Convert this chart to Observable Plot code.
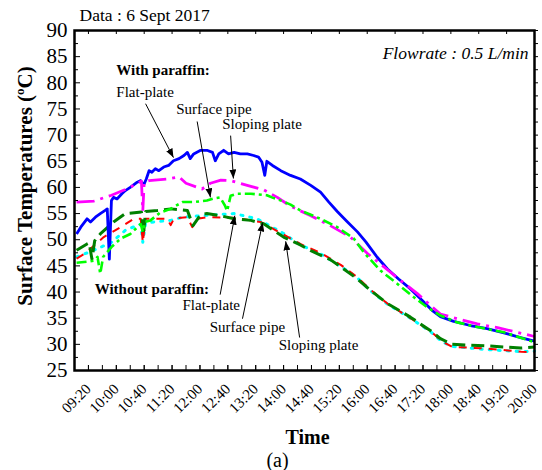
<!DOCTYPE html>
<html><head><meta charset="utf-8">
<script src="https://cdn.jsdelivr.net/npm/d3@7"></script>
<script src="https://cdn.jsdelivr.net/npm/@observablehq/plot@0.6"></script>
<style>
body{margin:0;background:#fff;}
#chart{width:542px;height:470px;}
</style></head><body><div id="chart"></div>
<script>
// ---- data (time "HH:MM", surface temperature °C) ----
const xTickLabels = ["09:20","10:00","10:40","11:20","12:00","12:40","13:20","14:00","14:40","15:20","16:00","16:40","17:20","18:00","18:40","19:20","20:00"];
const yTickLabels = [25,30,35,40,45,50,55,60,65,70,75,80,85,90];

// With paraffin
const flatPlateWith = [["09:03",51.1],["09:09",52.4],["09:18",54.0],["09:23",53.4],["09:30",54.3],["09:37",55.0],["09:44",55.6],["09:47",55.9],["09:50",46.3],["09:53",57.5],["09:56",58.1],["10:01",57.8],["10:08",58.8],["10:13",59.4],["10:20",60.0],["10:30",61.0],["10:35",61.3],["10:39",60.4],["10:43",61.6],["10:47",63.2],["10:51",62.9],["10:56",63.6],["11:01",63.2],["11:08",63.9],["11:15",64.2],["11:22",65.1],["11:30",65.5],["11:37",66.1],["11:42",66.7],["11:46",65.5],["11:51",66.4],["12:01",67.1],["12:10",67.1],["12:18",66.7],["12:22",65.1],["12:27",66.4],["12:34",67.1],["12:41",66.4],["12:49",66.7],["12:58",66.4],["13:08",66.4],["13:17",66.1],["13:24",65.8],["13:29",64.8],["13:33",62.3],["13:36",65.0],["13:44",64.2],["13:56",63.2],["14:10",62.3],["14:24",61.6],["14:39",60.4],["14:53",59.1],["15:05",57.2],["15:17",55.4],["15:31",53.5],["15:46",51.5],["15:58",49.6],["16:14",46.7],["16:29",44.4],["16:45",42.5],["17:02",40.6],["17:19",38.4],["17:33",36.5],["17:45",35.3],["18:04",34.4],["18:28",33.6],["18:52",33.0],["19:16",32.2],["19:40",31.3],["20:00",30.6]];
const slopingPlateWith = [["09:03",57.2],["09:28",57.4],["09:53",58.5],["10:13",59.6],["10:30",60.7],["10:36",61.2],["10:38",55.5],["10:40",61.0],["10:47",61.3],["11:13",61.6],["11:30",62.0],["11:40",60.8],["12:03",59.7],["12:15",60.8],["12:30",61.4],["12:44",61.3],["13:13",60.2],["13:32",59.5],["13:51",58.1],["14:10",56.4],["14:39",54.6],["15:07",52.7],["15:36",50.5],["16:00",47.4],["16:24",44.8],["16:48",42.2],["17:12",39.7],["17:31",37.4],["17:45",35.8],["18:09",34.9],["18:38",33.9],["19:07",33.2],["19:35",32.3],["20:00",31.5]];
const surfacePipeWith = [["09:03",45.6],["09:18",45.8],["09:28",46.0],["09:33",46.7],["09:37",43.5],["09:41",46.7],["09:53",48.6],["10:06",50.2],["10:20",51.1],["10:35",53.0],["10:38",51.5],["10:41",53.4],["10:49",53.7],["11:03",55.2],["11:18",55.9],["11:27",56.6],["11:35",57.2],["11:51",57.2],["12:10",57.5],["12:20",57.9],["12:29",58.1],["12:36",56.5],["12:39",55.5],["12:44",58.4],["12:53",58.8],["13:13",58.8],["13:36",58.5],["13:45",58.0],["14:00",57.3],["14:10",56.7],["14:24",55.6],["14:53",54.0],["15:17",52.4],["15:41",50.2],["15:55",47.6],["16:19",44.1],["16:43",41.6],["17:07",39.0],["17:26",37.1],["17:45",35.5],["18:09",34.2],["18:38",33.3],["19:16",32.3],["20:00",30.4]];

// Without paraffin
const flatPlateWithout = [["09:03",48.0],["09:18",49.2],["09:21",49.4],["09:25",46.3],["09:29",49.8],["09:37",51.1],["09:56",53.4],["10:13",55.0],["10:36",55.3],["10:39",51.0],["10:42",55.4],["10:59",55.6],["11:18",55.9],["11:42",55.6],["11:50",52.7],["12:01",54.8],["12:10",55.0],["12:29",54.6],["12:49",54.0],["13:13",53.7],["13:32",53.0],["14:00",50.5],["14:24",49.0],["14:39",47.9],["15:07",46.2],["15:22",44.8],["15:46",42.5],["16:05",40.3],["16:29",37.8],["17:02",35.2],["17:31",32.6],["17:45",31.1],["18:02",30.0],["18:52",29.7],["19:40",29.3],["20:00",29.5]];
const slopingPlateWithout = [["09:03",46.4],["09:18",47.6],["09:28",48.9],["09:42",50.5],["10:06",52.4],["10:25",54.0],["10:35",54.0],["10:38",49.5],["10:42",54.0],["11:13",54.0],["11:18",52.8],["11:23",54.1],["11:42",54.3],["11:49",52.4],["11:56",54.0],["12:10",54.3],["12:49",54.2],["13:27",53.4],["14:00",51.0],["14:24",49.2],["14:53",47.5],["15:22",45.2],["15:46",42.8],["16:05",40.4],["16:29",37.8],["17:02",35.0],["17:31",32.5],["17:47",30.6],["18:02",29.5],["18:52",29.2],["19:41",28.6],["20:00",28.5]];
const surfacePipeWithout = [["09:03",46.7],["09:28",48.0],["09:53",49.5],["10:13",51.8],["10:35",53.0],["10:38",49.5],["10:42",53.2],["10:54",53.4],["11:18",53.7],["11:35",54.3],["12:01",54.6],["12:49",55.0],["13:22",54.0],["14:00",51.2],["14:24",49.0],["14:53",47.3],["15:22",44.9],["15:46",42.7],["16:05",40.2],["16:29",37.7],["17:02",35.0],["17:31",32.4],["17:47",30.5],["18:02",29.6],["18:52",29.0],["19:41",28.6],["20:00",28.7]];

// annotation labels: [text, time, temperature, bold]
const annotationLabels = [
  ["With paraffin:","10:00",81.4,true],
  ["Flat-plate","10:00",77.2,false],
  ["Surface pipe","11:26",74.1,false],
  ["Sloping plate","12:32",71.1,false],
  ["Without paraffin:","09:29",39.7,true],
  ["Flat-plate","11:35",36.5,false],
  ["Surface pipe","12:14",32.3,false],
  ["Sloping plate","13:53",29.0,false]
];
// arrows: [fromTime, fromTemp, toTime, toTemp]
const annotationArrows = [
  ["10:42",76.0,"11:22",65.7],
  ["11:56",72.6,"12:15",58.1],
  ["12:44",69.9,"12:48",61.7],
  ["12:29",39.5,"12:50",54.6],
  ["13:01",34.9,"13:30",53.3],
  ["14:23",31.3,"14:03",49.7]
];

// ---- build ----
const parseT = d3.utcParse("%H:%M");
const rows = arr => arr.map(([t, v]) => ({time: parseT(t), value: v}));
const serif = "Liberation Serif";
const majorTicks = xTickLabels.map(parseT);
const minorTicks = d3.utcMinute.every(20).range(parseT("09:20"), parseT("20:01"));
const yMinor = d3.range(27.5, 90, 5);
const yAll = d3.range(25, 90.01, 2.5);

function solidArrow() {
  const m = d3.create("svg:marker")
    .attr("viewBox", "-9 -3.5 9 7")
    .attr("markerWidth", 9).attr("markerHeight", 7)
    .attr("markerUnits", "userSpaceOnUse")
    .attr("orient", "auto")
    .attr("fill", "black").attr("stroke", "none");
  m.append("path").attr("d", "M-9,-3.5L0,0L-9,3.5Z");
  return m.node();
}

const labelRows = annotationLabels.map(([text, t, v, bold]) => ({text, time: parseT(t), value: v, bold}));
const arrowRows = annotationArrows.map(([t1, v1, t2, v2]) => ({x1: parseT(t1), y1: v1, x2: parseT(t2), y2: v2}));

const lineStyle = (stroke, width, dash, cap) => ({x: "time", y: "value", stroke, strokeWidth: width, strokeDasharray: dash, strokeLinecap: cap || "butt", strokeLinejoin: "round"});

const chart = Plot.plot({
  width: 542, height: 470,
  marginLeft: 74, marginRight: 8, marginTop: 30, marginBottom: 100,
  style: {background: "white", color: "black", overflow: "visible"},
  x: {type: "utc", domain: [parseT("09:00"), parseT("20:00")]},
  y: {domain: [25, 90]},
  marks: [
    Plot.line(rows(surfacePipeWithout), lineStyle("#00ffff", 3, "2,7", "round")),
    Plot.line(rows(slopingPlateWithout), lineStyle("#ff0000", 2, "8,7")),
    Plot.line(rows(flatPlateWithout), lineStyle("#008000", 3, "13,6")),
    Plot.line(rows(flatPlateWith), lineStyle("#0000ff", 2.8, null)),
    Plot.line(rows(slopingPlateWith), lineStyle("#ff00ff", 2.8, "18,6,3,6")),
    Plot.line(rows(surfacePipeWith), lineStyle("#00ff00", 2.6, "10,4,3,4")),
    Plot.link(arrowRows, {x1: "x1", y1: "y1", x2: "x2", y2: "y2", stroke: "black", strokeWidth: 1, markerEnd: solidArrow}),
    Plot.text(labelRows.filter(d => d.bold), {x: "time", y: "value", text: "text", textAnchor: "start", lineAnchor: "bottom", fontSize: 15, fontWeight: "bold", fill: "black"}),
    Plot.text(labelRows.filter(d => !d.bold), {x: "time", y: "value", text: "text", textAnchor: "start", lineAnchor: "bottom", fontSize: 15, fill: "black"}),
    // axes
    Plot.axisX(majorTicks, {anchor: "bottom", tickSize: -5, tickPadding: 21, tickRotate: -45, tickFormat: d3.utcFormat("%H:%M"), fontSize: 15, label: null}),
    Plot.axisX(minorTicks, {anchor: "bottom", tickSize: -5, text: null, label: null}),
    Plot.axisX(majorTicks, {anchor: "top", tickSize: -3, text: null, label: null}),
    Plot.axisY(yTickLabels, {anchor: "left", tickSize: -6, tickPadding: 13, fontSize: 21, label: null}),
    Plot.axisY(yMinor, {anchor: "left", tickSize: -4, text: null, label: null}),
    Plot.axisY(yAll, {anchor: "right", tickSize: 3, text: null, label: null}),
    Plot.frame({stroke: "black", strokeWidth: 2.5}),
    Plot.text(["Data : 6 Sept 2017"], {frameAnchor: "top-left", dx: 5, dy: -10, textAnchor: "start", lineAnchor: "bottom", fontSize: 17.5}),
    Plot.text(["Flowrate : 0.5 L/min"], {frameAnchor: "top-right", dx: -6, dy: 28, textAnchor: "end", lineAnchor: "bottom", fontSize: 17.5, fontStyle: "italic"}),
    Plot.text(["Time"], {frameAnchor: "bottom", dx: 3, dy: 73, lineAnchor: "bottom", fontSize: 20, fontWeight: "bold"}),
    Plot.text(["(a)"], {frameAnchor: "bottom", dx: -27, dy: 96, lineAnchor: "bottom", fontSize: 20})
  ]
});

const svg = d3.select(chart);
// force the serif face on every text element
svg.style("font-family", serif);
svg.selectAll("g").style("font-family", serif);
svg.selectAll("text").style("font-family", serif);

// y-axis title with superscript
const yTitle = svg.append("text")
  .attr("transform", "translate(32,186) rotate(-90)")
  .attr("text-anchor", "middle")
  .style("font-family", serif)
  .attr("font-weight", "bold")
  .attr("font-size", 21)
  .attr("fill", "black");
yTitle.append("tspan").text("Surface Temperatures (");
yTitle.append("tspan").attr("font-size", 13).attr("dy", -8).text("o");
yTitle.append("tspan").attr("dy", 8).text("C)");

document.getElementById("chart").appendChild(chart);
</script>
</body></html>
